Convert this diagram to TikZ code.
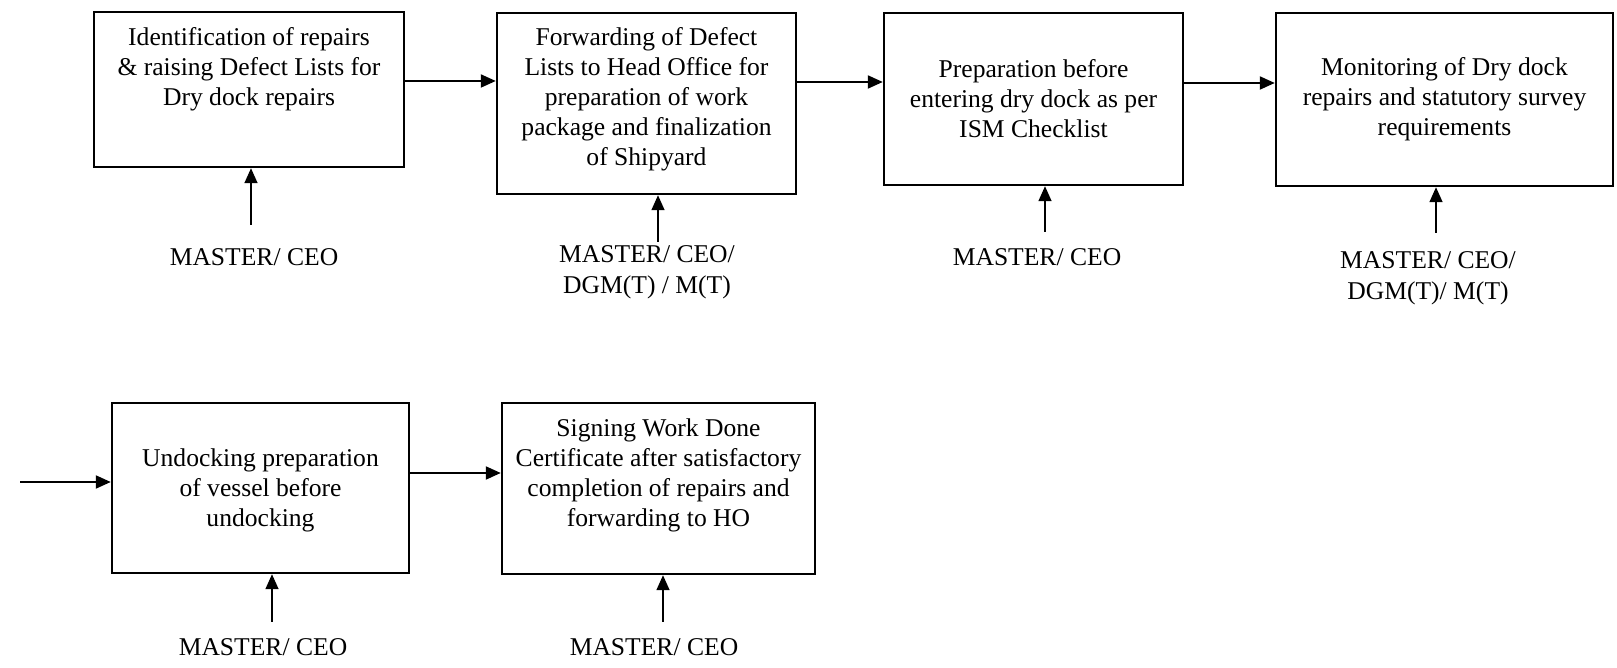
\documentclass[tikz,border=0pt]{standalone}
\usepackage{fontspec}
\setmainfont{Liberation Serif}
\usetikzlibrary{arrows.meta}

\begin{document}
\begin{tikzpicture}[>={Triangle[length=0.15cm,width=0.13cm]},
    stage/.style={draw, line width=0.7pt, inner sep=0pt},
    stagetext/.style={align=center, inner sep=0pt, font=\fontsize{7.28}{8.54}\selectfont},
    who/.style={align=center, inner sep=0pt, font=\fontsize{7.28}{8.9}\selectfont},
    flow/.style={->, line width=0.6pt},
    feed/.style={->, line width=0.45pt}]
    \useasboundingbox (0,0) rectangle (16.17,-6.68);
    % Boxes, top row
    \node[stage, minimum width=3.10cm, minimum height=1.55cm] (b1) at (2.49,-0.895) {};
    \node[stage, minimum width=2.99cm, minimum height=1.81cm] (b2) at (6.465,-1.035) {};
    \node[stage, minimum width=2.99cm, minimum height=1.72cm] (b3) at (10.335,-0.99) {};
    \node[stage, minimum width=3.37cm, minimum height=1.73cm] (b4) at (14.445,-0.995) {};
    % Boxes, bottom row
    \node[stage, minimum width=2.97cm, minimum height=1.70cm] (b5) at (2.605,-4.88) {};
    \node[stage, minimum width=3.13cm, minimum height=1.71cm] (b6) at (6.585,-4.885) {};

    % Box texts
    \node[stagetext] (t1) at ([yshift=0.2cm]b1.center)
      {Identification of repairs\\\& raising Defect Lists for\\Dry dock repairs};
    \node[stagetext] (t2) at ([yshift=0.04cm]b2.center)
      {Forwarding of Defect\\Lists to Head Office for\\preparation of work\\package and finalization\\of Shipyard};
    \node[stagetext] (t3) at (b3.center)
      {Preparation before\\entering dry dock as per\\ISM Checklist};
    \node[stagetext] (t4) at (b4.center)
      {Monitoring of Dry dock\\repairs and statutory survey\\requirements};
    \node[stagetext] (t5) at ([yshift=-0.02cm]b5.center)
      {Undocking preparation\\of vessel before\\undocking};
    \node[stagetext] (t6) at ([yshift=0.13cm]b6.center)
      {Signing Work Done\\Certificate after satisfactory\\completion of repairs and\\forwarding to HO};

    % Arrows between boxes
    \draw[flow] (b1.east |- 0,-0.81) -- (b2.west |- 0,-0.81);
    \draw[flow] (b2.east |- 0,-0.82) -- (b3.west |- 0,-0.82);
    \draw[flow] (b3.east |- 0,-0.83) -- (b4.west |- 0,-0.83);
    \coordinate (in5) at (0.20,-4.82);
    \draw[flow] (in5) -- (in5 -| b5.west);
    \draw[flow] (b5.east |- 0,-4.73) -- (b6.west |- 0,-4.73);

    % Responsibility labels
    \node[who] (l1) at (2.54,-2.57) {MASTER/ CEO};
    \node[who] (l2) at (6.47,-2.725) {MASTER/ CEO/\\DGM(T) / M(T)};
    \node[who] (l3) at (10.37,-2.57) {MASTER/ CEO};
    \node[who] (l4) at (14.28,-2.785) {MASTER/ CEO/\\DGM(T)/ M(T)};
    \node[who] (l5) at (2.63,-6.47) {MASTER/ CEO};
    \node[who] (l6) at (6.54,-6.47) {MASTER/ CEO};

    % Arrows up into the boxes
    \coordinate (m1) at (2.51,-2.25);
    \coordinate (m2) at (6.58,-2.42);
    \coordinate (m3) at (10.45,-2.32);
    \coordinate (m4) at (14.36,-2.33);
    \coordinate (m5) at (2.72,-6.22);
    \coordinate (m6) at (6.63,-6.22);
    \foreach \i in {1,...,6}
      \draw[feed] (m\i) -- (m\i |- b\i.south);
\end{tikzpicture}
\end{document}
